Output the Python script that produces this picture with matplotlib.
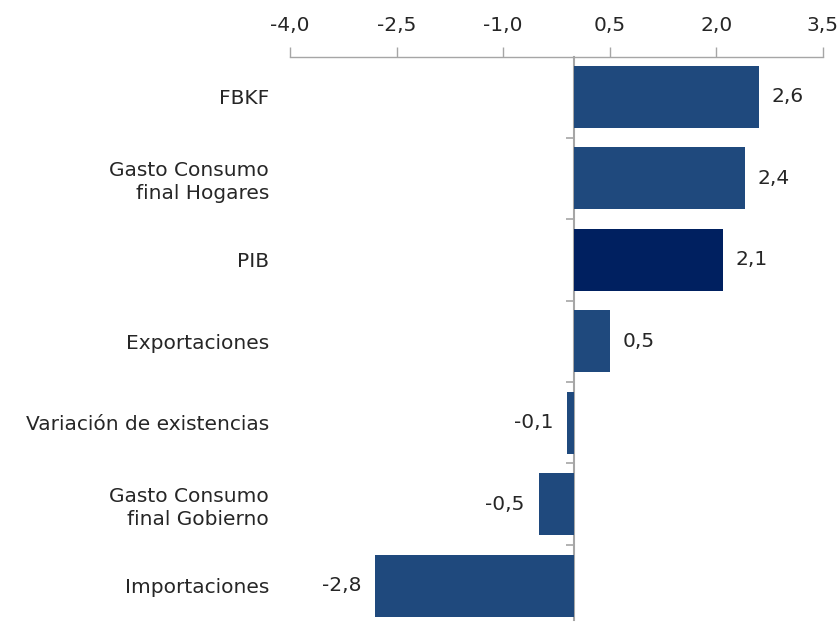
import numpy as np
import matplotlib.pyplot as plt

# ─────────────────────────────────────────────
# Data
# ─────────────────────────────────────────────
categories = ['FBKF', 'Gasto Consumo\nfinal Hogares', 'PIB', 'Exportaciones',
              'Variación de existencias', 'Gasto Consumo\nfinal Gobierno', 'Importaciones']
values     = [2.6, 2.4, 2.1, 0.5, -0.1, -0.5, -2.8]
x_ticks    = [-4.0, -2.5, -1.0, 0.5, 2.0, 3.5]

BAR_COLOR  = '#1F497D'
PIB_COLOR  = '#002060'
AXIS_COLOR = '#A6A6A6'
TEXT_COLOR = '#262626'

plt.rcParams['font.family'] = ['DejaVu Sans']
plt.rcParams['font.size'] = 14.5

fig = plt.figure(figsize=(8.38, 6.23), dpi=100)
ax = fig.add_axes([0.346, 0.005, 0.636, 0.9035])

y = np.arange(len(categories))
colors = [PIB_COLOR if c == 'PIB' else BAR_COLOR for c in categories]
ax.barh(y, values, height=0.76, color=colors, zorder=2)

ax.set_xlim(-4.0, 3.5)
ax.set_ylim(6.42, -0.49)

# top axis
ax.xaxis.set_ticks_position('top')
ax.set_xticks(x_ticks)
ax.set_xticklabels([f'{t:.1f}'.replace('.', ',') for t in x_ticks], color=TEXT_COLOR)
ax.tick_params(axis='x', direction='out', length=7, width=1, color=AXIS_COLOR, pad=9)

# category labels on the left
ax.set_yticks(y)
ax.set_yticklabels(categories, color=TEXT_COLOR, linespacing=1.25)
ax.tick_params(axis='y', length=0, pad=15)

for s in ['left', 'right', 'bottom']:
    ax.spines[s].set_visible(False)
ax.spines['top'].set_color(AXIS_COLOR)
ax.spines['top'].set_linewidth(1)

# vertical axis at zero with ticks between categories
sec = ax.secondary_yaxis(4.0 / 7.5)
sec.set_yticks(np.arange(len(categories) - 1) + 0.5)
sec.set_yticklabels([])
sec.tick_params(direction='in', length=6, width=1.2, color=AXIS_COLOR)
for sp in sec.spines.values():
    sp.set_color(AXIS_COLOR)
    sp.set_linewidth(1.5)

# value labels
for yi, v in zip(y, values):
    lab = f'{v:.1f}'.replace('.', ',')
    if v >= 0:
        ax.annotate(lab, (v, yi), xytext=(9, 0), textcoords='offset points',
                    ha='left', va='center', color=TEXT_COLOR)
    else:
        ax.annotate(lab, (v, yi), xytext=(-10, 0), textcoords='offset points',
                    ha='right', va='center', color=TEXT_COLOR)

plt.savefig('out.png', dpi=100)
